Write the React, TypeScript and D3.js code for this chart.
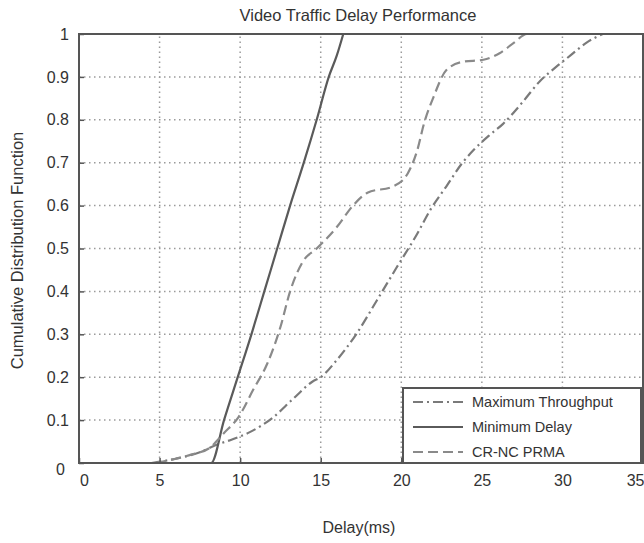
import React, { useEffect, useRef } from 'react';
import * as d3 from 'd3';

// values (delay in ms, CDF)
const maxThroughputX = [4.5, 6.0, 7.5, 8.5, 9.5, 10.6, 12.0, 13.3, 14.5, 15.0, 16.0, 17.2, 18.5, 19.7, 21.0, 21.8, 22.8, 23.8, 24.5, 25.5, 26.3, 27.5, 28.6, 29.5, 30.5, 31.5, 32.5];
const maxThroughputY = [0.0, 0.01, 0.025, 0.042, 0.055, 0.072, 0.105, 0.15, 0.19, 0.2, 0.24, 0.3, 0.38, 0.455, 0.535, 0.59, 0.645, 0.7, 0.73, 0.765, 0.79, 0.84, 0.89, 0.92, 0.95, 0.98, 1.0];

const minDelayX = [4.5, 8.2, 9.0, 9.85, 10.7, 11.5, 12.3, 13.1, 13.95, 14.75, 15.5, 16.0, 16.4];
const minDelayY = [0.0, 0.0, 0.1, 0.2, 0.3, 0.4, 0.5, 0.6, 0.7, 0.8, 0.9, 0.95, 1.0];

const crncX = [4.8, 6.0, 7.0, 8.1, 9.0, 9.9, 10.8, 11.7, 12.5, 13.1, 13.9, 14.75, 16.0, 17.0, 17.9, 19.5, 20.4, 21.0, 21.4, 22.0, 22.8, 23.8, 25.1, 26.1, 27.0, 27.8, 35];
const crncY = [0.0, 0.01, 0.02, 0.035, 0.07, 0.107, 0.17, 0.233, 0.317, 0.4, 0.47, 0.5, 0.55, 0.6, 0.63, 0.645, 0.675, 0.73, 0.79, 0.853, 0.916, 0.935, 0.94, 0.955, 0.98, 1.0, 1.0];

const xTicks = [0, 5, 10, 15, 20, 25, 30, 35];
const yTicks = [0, 0.1, 0.2, 0.3, 0.4, 0.5, 0.6, 0.7, 0.8, 0.9, 1];

const seriesNames = ['Maximum Throughput', 'Minimum Delay', 'CR-NC PRMA'];
const seriesDash = ['10,4,2,4', null, '10,5'];
const seriesColor = ['#7a7a7a', '#5a5a5a', '#8a8a8a'];

const W = 644;
const H = 543;
const margin = { top: 34, right: 1, bottom: 80, left: 79 };

export default function App() {
  const ref = useRef<SVGSVGElement>(null);

  useEffect(() => {
    const svg = d3.select(ref.current);
    svg.selectAll('*').remove();

    const w = W - margin.left - margin.right;
    const h = H - margin.top - margin.bottom;
    const font = '"Liberation Sans", Arial, sans-serif';

    const x = d3.scaleLinear().domain([0, 35]).range([margin.left, margin.left + w]);
    const y = d3.scaleLinear().domain([0, 1]).range([margin.top + h, margin.top]);

    svg.append('rect').attr('width', W).attr('height', H).attr('fill', '#fff');

    // grid
    const grid = svg.append('g');
    grid.selectAll('.vg').data(xTicks.slice(1, -1)).join('line')
      .attr('x1', d => x(d)).attr('x2', d => x(d))
      .attr('y1', y(0)).attr('y2', y(1))
      .attr('stroke', '#9a9a9a').attr('stroke-width', 1.5).attr('stroke-dasharray', '1.5,3.5');
    grid.selectAll('.hg').data(yTicks.slice(1, -1)).join('line')
      .attr('x1', x(0)).attr('x2', x(35))
      .attr('y1', d => y(d)).attr('y2', d => y(d))
      .attr('stroke', '#9a9a9a').attr('stroke-width', 1.5).attr('stroke-dasharray', '1.5,3.5');

    // curves
    const line = d3.line<[number, number]>().x(d => x(d[0])).y(d => y(d[1])).curve(d3.curveMonotoneX);
    const data: [number, number][][] = [
      maxThroughputX.map((v, i) => [v, maxThroughputY[i]]),
      minDelayX.map((v, i) => [v, minDelayY[i]]),
      crncX.map((v, i) => [v, crncY[i]]),
    ];
    data.forEach((d, i) => {
      svg.append('path')
        .datum(d)
        .attr('d', line)
        .attr('fill', 'none')
        .attr('stroke', seriesColor[i])
        .attr('stroke-width', 2.2)
        .attr('stroke-dasharray', seriesDash[i] ?? null);
    });

    // frame
    svg.append('rect')
      .attr('x', x(0)).attr('y', y(1))
      .attr('width', x(35) - x(0)).attr('height', y(0) - y(1))
      .attr('fill', 'none').attr('stroke', '#555').attr('stroke-width', 2);

    // axes
    const xAxis = svg.append('g')
      .attr('transform', `translate(0,${y(0)})`)
      .call(d3.axisBottom(x).tickValues(xTicks).tickSize(-5).tickPadding(12).tickFormat(d3.format('d')));
    const yAxis = svg.append('g')
      .attr('transform', `translate(${x(0)},0)`)
      .call(d3.axisLeft(y).tickValues(yTicks).tickSize(-5).tickPadding(10).tickFormat(d => (d === 0 || d === 1 ? String(d) : d3.format('.1f')(d as number))));
    [xAxis, yAxis].forEach(a => {
      a.select('.domain').remove();
      a.selectAll('line').attr('stroke', '#555').attr('stroke-width', 1.5);
      a.selectAll('text').attr('fill', '#333').style('font-family', font).style('font-size', '16px');
    });
    xAxis.selectAll('text').filter(d => d === 0).attr('dx', 5);
    xAxis.selectAll('text').filter(d => d === 35).attr('text-anchor', 'end').attr('dx', 1);
    yAxis.selectAll('text').filter(d => d === 0).attr('dx', -4).attr('dy', '0.7em');

    // title and labels
    svg.append('text').attr('x', 358).attr('y', 21).attr('text-anchor', 'middle')
      .style('font-family', font).style('font-size', '16.5px').attr('fill', '#333')
      .text('Video Traffic Delay Performance');
    svg.append('text').attr('x', 359).attr('y', 533).attr('text-anchor', 'middle')
      .style('font-family', font).style('font-size', '16px').attr('fill', '#333')
      .text('Delay(ms)');
    svg.append('text').attr('transform', `translate(23,${(y(0) + y(1)) / 2 + 2}) rotate(-90)`)
      .attr('text-anchor', 'middle')
      .style('font-family', font).style('font-size', '16.5px').attr('fill', '#333')
      .text('Cumulative Distribution Function');

    // legend
    const lg = svg.append('g');
    lg.append('rect').attr('x', 403).attr('y', 388).attr('width', 238).attr('height', 75)
      .attr('fill', '#fff').attr('stroke', '#555').attr('stroke-width', 2);
    seriesNames.forEach((name, i) => {
      const ly = 402 + i * 25;
      lg.append('line').attr('x1', 413).attr('x2', 463).attr('y1', ly).attr('y2', ly)
        .attr('stroke', seriesColor[i]).attr('stroke-width', 2.2)
        .attr('stroke-dasharray', seriesDash[i] ?? null);
      lg.append('text').attr('x', 472).attr('y', ly).attr('dy', '0.35em')
        .style('font-family', font).style('font-size', '14.5px').attr('fill', '#333')
        .text(name);
    });
  }, []);

  return (
    <div style={{ position: 'absolute', left: 0, top: 0 }}>
      <svg ref={ref} width={W} height={H} style={{ display: 'block' }} />
    </div>
  );
}
